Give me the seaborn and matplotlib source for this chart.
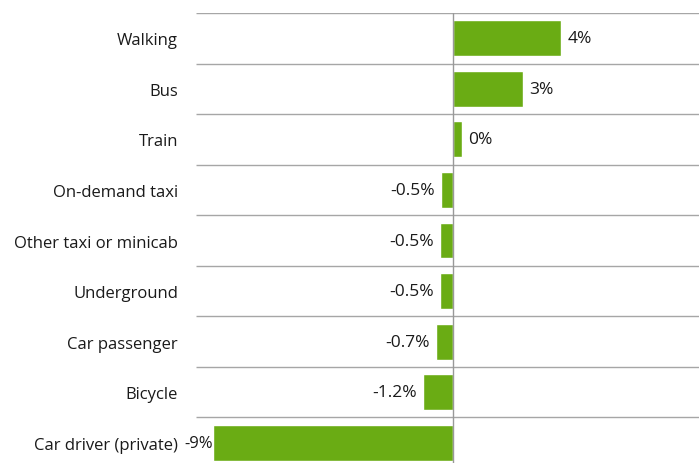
import numpy as np
import pandas as pd
import matplotlib.pyplot as plt
import seaborn as sns

# change in mode share
modes = ["Walking", "Bus", "Train", "On-demand taxi", "Other taxi or minicab",
         "Underground", "Car passenger", "Bicycle", "Car driver (private)"]
change = [4.08, 2.63, 0.35, -0.45, -0.47, -0.47, -0.62, -1.12, -9.0]
value_labels = ["4%", "3%", "0%", "-0.5%", "-0.5%", "-0.5%", "-0.7%", "-1.2%", "-9%"]

bar_color = "#6aac14"
line_color = "#a6a6a6"
text_color = "#1a1a1a"

sns.set_style("white")
plt.rcParams['font.family'] = ['Open Sans', 'DejaVu Sans']

df = pd.DataFrame({"mode": modes, "change": change})

fig = plt.figure(figsize=(6.99, 4.64), dpi=100)
ax = fig.add_axes([0.2804, -0.0108, 0.7196, 0.9806])

sns.barplot(data=df, y="mode", x="change", color=bar_color, saturation=1,
            width=0.71, ax=ax, zorder=3)

ax.set_xlim(-9.64, 9.25)
ax.set_ylim(len(modes) - 0.5, -0.5)

# row separators and zero line
ax.hlines(np.arange(len(modes) + 1) - 0.5, *ax.get_xlim(), color=line_color, lw=1, zorder=1)
ax.axvline(0, color="#999999", lw=1, zorder=4)

# the long bar's label sits right against it
bars = ax.containers[0]
ax.bar_label(bars, labels=value_labels[:-1] + [""], padding=4.5,
             fontsize=12.5, color=text_color)
ax.bar_label(bars, labels=[""] * (len(modes) - 1) + value_labels[-1:], padding=0,
             fontsize=12, color=text_color)

for s in ax.spines.values():
    s.set_visible(False)
ax.set_xticks([])
ax.set_xlabel("")
ax.set_ylabel("")
ax.tick_params(axis='y', length=0, pad=13, labelsize=12, labelcolor=text_color)

fig.savefig("out.png", dpi=100)
